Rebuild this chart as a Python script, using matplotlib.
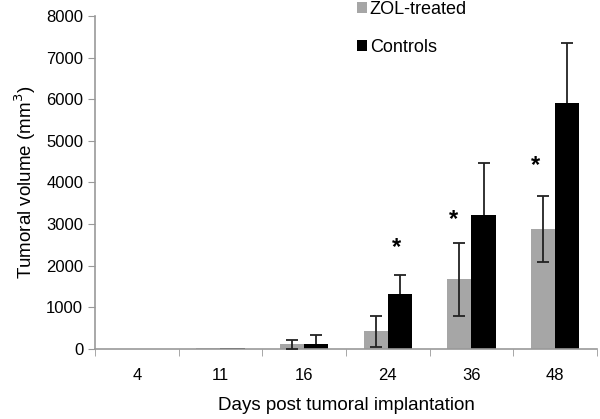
import matplotlib
matplotlib.use("Agg")
import matplotlib.pyplot as plt
import numpy as np

plt.rcParams['font.family'] = ['Liberation Sans', 'DejaVu Sans']

days = ['4', '11', '16', '24', '36', '48']
zol = [0, 25, 110, 425, 1675, 2880]
zol_err = [0, 0, 110, 370, 880, 800]
ctrl = [0, 35, 120, 1330, 3230, 5900]
ctrl_err = [0, 0, 220, 450, 1250, 1460]
# asterisks: (category index, offset from category centre, height)
stars = [(3, 0.10, 2450), (4, -0.22, 3120), (5, -0.24, 4400)]

fig = plt.figure(figsize=(6, 4.19), dpi=100)
ax = fig.add_axes([95/600, 1-349/419, 502/600, 333/419])

x = np.arange(len(days))
w = 0.29
ax.bar(x - w/2, zol, w, color='#a6a6a6', label='ZOL-treated', zorder=2)
ax.bar(x + w/2, ctrl, w, color='black', label='Controls', zorder=2)

zi = [i for i in x if zol_err[i] > 0]
ci = [i for i in x if ctrl_err[i] > 0]
ax.errorbar(x[zi] - w/2, [zol[i] for i in zi], yerr=[zol_err[i] for i in zi], fmt='none',
            ecolor='#222222', elinewidth=1.3, capsize=4, capthick=1.3, zorder=3)
# controls: lower half hidden behind the black bar
ax.errorbar(x[ci] + w/2, [ctrl[i] for i in ci], yerr=[ctrl_err[i] for i in ci], fmt='none',
            ecolor='#222222', elinewidth=1.3, capsize=4, capthick=1.3, zorder=1)

for i, dx, h in stars:
    ax.text(i + dx, h, '*', ha='center', va='center', fontsize=17, fontweight='bold')

ax.set_xlim(-0.5, len(days) - 0.5)
ax.set_ylim(0, 8000)
ax.set_yticks(np.arange(0, 8001, 1000))
ax.set_xticks(x)
ax.set_xticklabels(days, fontsize=12)
ax.set_xticks(np.arange(-0.5, len(days), 1), minor=True)
ax.tick_params(axis='x', which='major', length=0, pad=14)
ax.tick_params(axis='x', which='minor', length=5, color='#999999', direction='out')
ax.tick_params(axis='y', length=5, color='#999999', labelsize=12, direction='out')
for s in ['top', 'right']:
    ax.spines[s].set_visible(False)
for s in ['left', 'bottom']:
    ax.spines[s].set_color('#999999')
    ax.spines[s].set_linewidth(1.2)

ax.set_ylabel('Tumoral volume (mm$^3$)', fontsize=13.5, labelpad=6)
ax.set_xlabel('Days post tumoral implantation', fontsize=13.5, labelpad=10)

ax.legend(loc='upper left', bbox_to_anchor=(0.49, 1.095), frameon=False, fontsize=13,
          handlelength=0.55, handleheight=0.55, handletextpad=0.15, labelspacing=1.2)

fig.savefig('out.png', dpi=100)
